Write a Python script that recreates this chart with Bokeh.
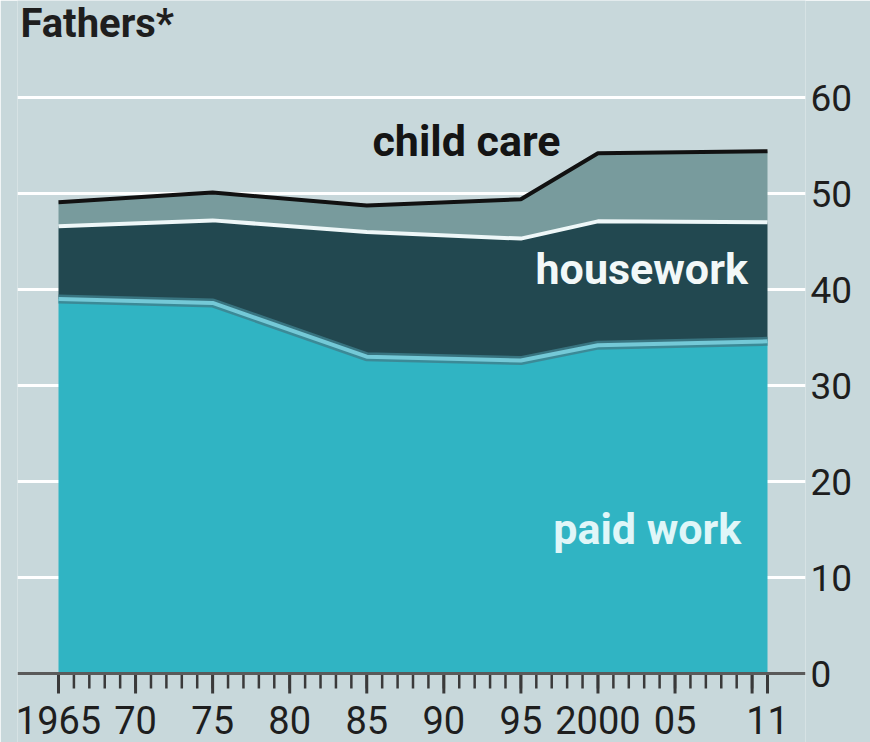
from bokeh.plotting import figure
from bokeh.models import Range1d, FixedTicker, Label, Span, ColumnDataSource
from bokeh.core.properties import value
from bokeh.embed import file_html
from bokeh.resources import INLINE

# ---- data (hours per week, fathers) ----
years = [1965, 1975, 1985, 1995, 2000, 2011]
paid_work = [39.0, 38.6, 33.0, 32.6, 34.2, 34.6]
housework = [7.6, 8.6, 13.0, 12.7, 12.9, 12.4]
child_care = [2.5, 2.9, 2.75, 4.1, 7.1, 7.4]

tick_years = [1965, 1970, 1975, 1980, 1985, 1990, 1995, 2000, 2005, 2011]
tick_labels = ["1965", "70", "75", "80", "85", "90", "95", "2000", "05", "11"]
major_tick_years = [1965, 1970, 1975, 1980, 1985, 1990, 1995, 2000, 2005, 2010, 2011]
minor_tick_years = list(range(1965, 2012))
y_ticks = [0, 10, 20, 30, 40, 50, 60]

FONT = "Roboto"
PANEL = "#c8d8db"
INK = "#1e1e1e"

W, H = 870, 742
PX_PER_UNIT = 9.6
ZERO_PX = 673  # pixel row of value 0 from the top
BASELINE_FIX = 17  # px: renderer draws "alphabetic" text this much lower


def ypix(row):
    """data y for a pixel row (from top), compensated for text baseline"""
    return (ZERO_PX - row + BASELINE_FIX) / PX_PER_UNIT


src = ColumnDataSource(dict(year=years, paid=paid_work, house=housework, care=child_care))

p = figure(width=W, height=H,
           x_range=Range1d(1962.34, 2013.465),
           y_range=Range1d(-(H - ZERO_PX) / PX_PER_UNIT, ZERO_PX / PX_PER_UNIT),
           x_axis_location=None, y_axis_location="right",
           output_backend="svg", toolbar_location=None,
           min_border_left=17, min_border_right=65, min_border_top=0, min_border_bottom=0)
p.background_fill_color = PANEL
p.border_fill_color = PANEL
p.outline_line_color = None

# grid
p.xgrid.visible = False
p.ygrid.ticker = FixedTicker(ticks=y_ticks)
p.ygrid.grid_line_color = "white"
p.ygrid.grid_line_width = 3

# stacked areas
p.varea_stack(["paid", "house", "care"], x="year",
              color=["#30b4c3", "#224850", "#789b9d"], source=src)

top_paid = paid_work
top_house = [a + b for a, b in zip(paid_work, housework)]
top_care = [a + b + c for a, b, c in zip(paid_work, housework, child_care)]

p.line(years, top_paid, line_color="#3f7f8c", line_width=9, line_alpha=0.8)
p.line(years, top_paid, line_color="#74c9d7", line_width=4)
p.line(years, top_house, line_color="#eef7f8", line_width=4)
p.line(years, top_care, line_color="#111111", line_width=4)

# x axis: zero line, ticks and labels
p.add_layout(Span(location=0, dimension="width", line_color="#5a5a5a", line_width=3))
p.ray(x=minor_tick_years, y=[0] * len(minor_tick_years), length=15, length_units="screen",
      angle=-90, angle_units="deg", line_color="#3a3a3a", line_width=2.5)
p.ray(x=major_tick_years, y=[0] * len(major_tick_years), length=20, length_units="screen",
      angle=-90, angle_units="deg", line_color="#3a3a3a", line_width=3)
p.text(x=tick_years, y=[ypix(736)] * len(tick_years), text=tick_labels,
       text_font=value(FONT), text_font_size=value("38px"), text_color=INK,
       text_align="center", text_baseline="alphabetic")

# y axis (right)
ya = p.yaxis[0]
ya.ticker = FixedTicker(ticks=y_ticks)
ya.axis_line_color = None
ya.major_tick_line_color = None
ya.minor_tick_line_color = None
ya.major_tick_out = 0
ya.major_tick_in = 0
ya.minor_tick_out = 0
ya.major_label_standoff = 5
ya.major_label_text_font = FONT
ya.major_label_text_font_size = "37px"
ya.major_label_text_color = INK

# text labels
p.add_layout(Label(x=1962.53, y=ypix(40), text="Fathers*", text_font=FONT,
                   text_font_style="bold", text_font_size="40px",
                   text_color=INK, text_baseline="alphabetic"))
p.add_layout(Label(x=1985.37, y=ypix(157), text="child care", text_font=FONT,
                   text_font_style="bold", text_font_size="43px",
                   text_color="#141414", text_baseline="alphabetic"))
p.add_layout(Label(x=1995.95, y=ypix(285), text="housework", text_font=FONT,
                   text_font_style="bold", text_font_size="43px",
                   text_color="#f2f8f8", text_baseline="alphabetic"))
p.add_layout(Label(x=1997.1, y=ypix(545), text="paid work", text_font=FONT,
                   text_font_style="bold", text_font_size="43px",
                   text_color="#e0f6f8", text_baseline="alphabetic"))

open("out.html", "w").write(file_html(p, INLINE))
